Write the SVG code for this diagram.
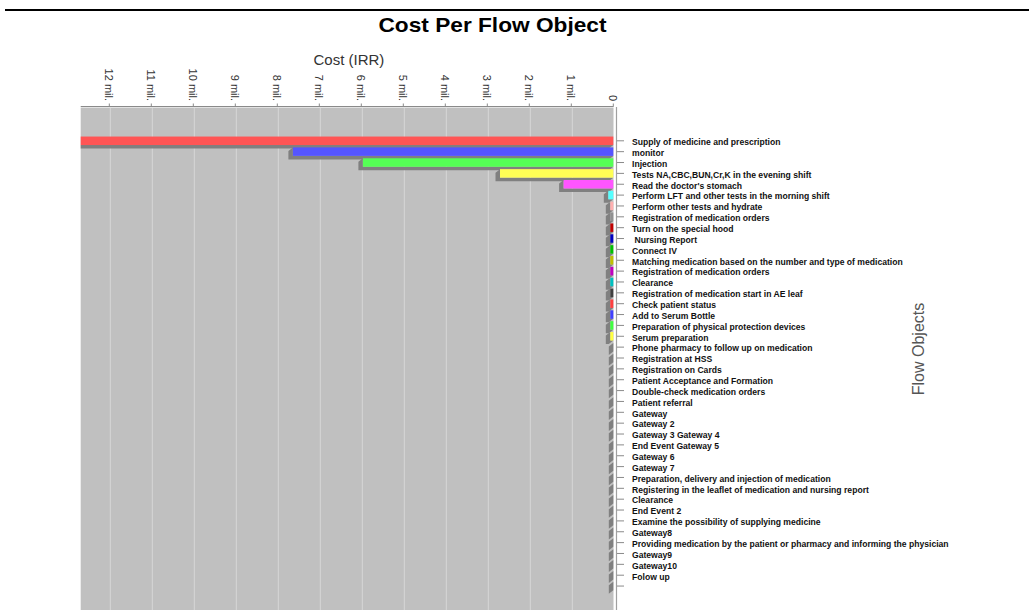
<svg xmlns="http://www.w3.org/2000/svg" width="1029" height="610" viewBox="0 0 1029 610">
  <style>
    .title { font-family: "Liberation Sans", Arial, sans-serif; font-weight: bold; font-size: 21px; fill: #000; }
    .axis-title { font-family: "Liberation Sans", Arial, sans-serif; font-size: 15px; fill: #333; }
    .flow-title { font-family: "Liberation Sans", Arial, sans-serif; font-size: 16px; fill: #555; }
    .tick-lbl { font-family: "Liberation Sans", Arial, sans-serif; font-size: 11px; fill: #333; }
    .lbl { font-family: "Liberation Sans", Arial, sans-serif; font-weight: bold; font-size: 8.6px; fill: #111; }
    .tk { stroke: #8a8a8a; stroke-width: 1; }
    .grid { stroke: #d6d6d6; stroke-width: 1; }
    .sh { fill: #808080; }
  </style>

  <!-- page rule and headings -->
  <line x1="5" y1="10" x2="1029" y2="10" stroke="#000" stroke-width="2"/>
  <text class="title" x="492.5" y="31.5" text-anchor="middle" textLength="228" lengthAdjust="spacingAndGlyphs">Cost Per Flow Object</text>
  <text class="axis-title" x="313.5" y="65">Cost (IRR)</text>
  <text class="flow-title" transform="translate(924,349) rotate(-90)" text-anchor="middle">Flow Objects</text>

  <!-- plot background and gridlines -->
  <g id="plot">
    <rect x="80.7" y="108" width="532.8" height="502" fill="#c0c0c0"/>
    <g class="grid">
      <line x1="110.3" y1="108" x2="110.3" y2="610"/>
      <line x1="152.3" y1="108" x2="152.3" y2="610"/>
      <line x1="194.3" y1="108" x2="194.3" y2="610"/>
      <line x1="236.3" y1="108" x2="236.3" y2="610"/>
      <line x1="278.3" y1="108" x2="278.3" y2="610"/>
      <line x1="320.3" y1="108" x2="320.3" y2="610"/>
      <line x1="362.3" y1="108" x2="362.3" y2="610"/>
      <line x1="404.3" y1="108" x2="404.3" y2="610"/>
      <line x1="446.3" y1="108" x2="446.3" y2="610"/>
      <line x1="488.3" y1="108" x2="488.3" y2="610"/>
      <line x1="530.3" y1="108" x2="530.3" y2="610"/>
      <line x1="572.3" y1="108" x2="572.3" y2="610"/>
    </g>
  </g>

  <!-- cost axis (top) -->
  <g id="cost-axis">
    <line x1="80.7" y1="106.7" x2="613.5" y2="106.7" stroke="#8a8a8a" stroke-width="1.2"/>
    <g class="tk">
      <line x1="109.3" y1="103.5" x2="109.3" y2="106.5"/>
      <line x1="151.3" y1="103.5" x2="151.3" y2="106.5"/>
      <line x1="193.3" y1="103.5" x2="193.3" y2="106.5"/>
      <line x1="235.3" y1="103.5" x2="235.3" y2="106.5"/>
      <line x1="277.3" y1="103.5" x2="277.3" y2="106.5"/>
      <line x1="319.3" y1="103.5" x2="319.3" y2="106.5"/>
      <line x1="361.3" y1="103.5" x2="361.3" y2="106.5"/>
      <line x1="403.3" y1="103.5" x2="403.3" y2="106.5"/>
      <line x1="445.3" y1="103.5" x2="445.3" y2="106.5"/>
      <line x1="487.3" y1="103.5" x2="487.3" y2="106.5"/>
      <line x1="529.3" y1="103.5" x2="529.3" y2="106.5"/>
      <line x1="571.3" y1="103.5" x2="571.3" y2="106.5"/>
      <line x1="613.3" y1="103.5" x2="613.3" y2="106.5"/>
    </g>
    <g text-anchor="end">
      <text class="tick-lbl" transform="translate(105.3,101) rotate(90)">12 mil.</text>
      <text class="tick-lbl" transform="translate(147.3,101) rotate(90)">11 mil.</text>
      <text class="tick-lbl" transform="translate(189.3,101) rotate(90)">10 mil.</text>
      <text class="tick-lbl" transform="translate(231.3,101) rotate(90)">9 mil.</text>
      <text class="tick-lbl" transform="translate(273.3,101) rotate(90)">8 mil.</text>
      <text class="tick-lbl" transform="translate(315.3,101) rotate(90)">7 mil.</text>
      <text class="tick-lbl" transform="translate(357.3,101) rotate(90)">6 mil.</text>
      <text class="tick-lbl" transform="translate(399.3,101) rotate(90)">5 mil.</text>
      <text class="tick-lbl" transform="translate(441.3,101) rotate(90)">4 mil.</text>
      <text class="tick-lbl" transform="translate(483.3,101) rotate(90)">3 mil.</text>
      <text class="tick-lbl" transform="translate(525.3,101) rotate(90)">2 mil.</text>
      <text class="tick-lbl" transform="translate(567.3,101) rotate(90)">1 mil.</text>
      <text class="tick-lbl" transform="translate(609.3,101) rotate(90)">0</text>
    </g>
  </g>

  <!-- flow object axis (right) -->
  <line id="flow-axis" x1="616.5" y1="107" x2="616.5" y2="610" stroke="#a0a0a0" stroke-width="1.2"/>

  <!-- bars, one group per flow object -->
  <g id="bars">
    <g id="row-01" transform="translate(0,140.8)"><path class="sh" d="M80.7,4.25 V7.75 H608.8 L613.3,4.25 Z"/><rect x="80.7" y="-4.25" width="532.6" height="8.5" fill="#ff5555"/><line class="tk" x1="617" x2="624" y1="0" y2="0"/><text class="lbl" x="632" y="4.3">Supply of medicine and prescription</text></g>
    <g id="row-02" transform="translate(0,151.66)"><path class="sh" d="M292.9,-4.25 l-4.5,3.5 V7.75 H608.8 L613.3,4.25 H292.9 Z"/><rect x="292.9" y="-4.25" width="320.4" height="8.5" fill="#5555ff"/><line class="tk" x1="617" x2="624" y1="0" y2="0"/><text class="lbl" x="632" y="4.3">monitor</text></g>
    <g id="row-03" transform="translate(0,162.52)"><path class="sh" d="M362.9,-4.25 l-4.5,3.5 V7.75 H608.8 L613.3,4.25 H362.9 Z"/><rect x="362.9" y="-4.25" width="250.4" height="8.5" fill="#55ff55"/><line class="tk" x1="617" x2="624" y1="0" y2="0"/><text class="lbl" x="632" y="4.3">Injection</text></g>
    <g id="row-04" transform="translate(0,173.38)"><path class="sh" d="M500,-4.25 l-4.5,3.5 V7.75 H608.8 L613.3,4.25 H500 Z"/><rect x="500" y="-4.25" width="113.3" height="8.5" fill="#ffff55"/><line class="tk" x1="617" x2="624" y1="0" y2="0"/><text class="lbl" x="632" y="4.3">Tests NA,CBC,BUN,Cr,K in the evening shift</text></g>
    <g id="row-05" transform="translate(0,184.24)"><path class="sh" d="M563.6,-4.25 l-4.5,3.5 V7.75 H608.8 L613.3,4.25 H563.6 Z"/><rect x="563.6" y="-4.25" width="49.7" height="8.5" fill="#ff55ff"/><line class="tk" x1="617" x2="624" y1="0" y2="0"/><text class="lbl" x="632" y="4.3">Read the doctor's stomach</text></g>
    <g id="row-06" transform="translate(0,195.1)"><path class="sh" d="M608.3,-4.25 l-4.5,3.5 V7.75 H608.8 L613.3,4.25 H608.3 Z"/><rect x="608.3" y="-4.25" width="5" height="8.5" fill="#55ffff"/><line class="tk" x1="617" x2="624" y1="0" y2="0"/><text class="lbl" x="632" y="4.3">Perform LFT and other tests in the morning shift</text></g>
    <g id="row-07" transform="translate(0,205.96)"><path class="sh" d="M610.3,-4.25 l-4.5,3.5 V7.75 H608.8 L613.3,4.25 H610.3 Z"/><rect x="610.3" y="-4.25" width="3" height="8.5" fill="#ffafaf"/><line class="tk" x1="617" x2="624" y1="0" y2="0"/><text class="lbl" x="632" y="4.3">Perform other tests and hydrate</text></g>
    <g id="row-08" transform="translate(0,216.82)"><path class="sh" d="M610.3,-4.25 l-4.5,3.5 V7.75 H608.8 L613.3,4.25 H610.3 Z"/><rect x="610.3" y="-4.25" width="3" height="8.5" fill="#909090"/><line class="tk" x1="617" x2="624" y1="0" y2="0"/><text class="lbl" x="632" y="4.3">Registration of medication orders</text></g>
    <g id="row-09" transform="translate(0,227.68)"><path class="sh" d="M610.3,-4.25 l-4.5,3.5 V7.75 H608.8 L613.3,4.25 H610.3 Z"/><rect x="610.3" y="-4.25" width="3" height="8.5" fill="#c00000"/><line class="tk" x1="617" x2="624" y1="0" y2="0"/><text class="lbl" x="632" y="4.3">Turn on the special hood</text></g>
    <g id="row-10" transform="translate(0,238.54)"><path class="sh" d="M610.3,-4.25 l-4.5,3.5 V7.75 H608.8 L613.3,4.25 H610.3 Z"/><rect x="610.3" y="-4.25" width="3" height="8.5" fill="#0000c0"/><line class="tk" x1="617" x2="624" y1="0" y2="0"/><text class="lbl" x="634.5" y="4.3">Nursing Report</text></g>
    <g id="row-11" transform="translate(0,249.4)"><path class="sh" d="M610.3,-4.25 l-4.5,3.5 V7.75 H608.8 L613.3,4.25 H610.3 Z"/><rect x="610.3" y="-4.25" width="3" height="8.5" fill="#00c000"/><line class="tk" x1="617" x2="624" y1="0" y2="0"/><text class="lbl" x="632" y="4.3">Connect IV</text></g>
    <g id="row-12" transform="translate(0,260.26)"><path class="sh" d="M610.3,-4.25 l-4.5,3.5 V7.75 H608.8 L613.3,4.25 H610.3 Z"/><rect x="610.3" y="-4.25" width="3" height="8.5" fill="#c0c000"/><line class="tk" x1="617" x2="624" y1="0" y2="0"/><text class="lbl" x="632" y="4.3">Matching medication based on the number and type of medication</text></g>
    <g id="row-13" transform="translate(0,271.12)"><path class="sh" d="M610.3,-4.25 l-4.5,3.5 V7.75 H608.8 L613.3,4.25 H610.3 Z"/><rect x="610.3" y="-4.25" width="3" height="8.5" fill="#c000c0"/><line class="tk" x1="617" x2="624" y1="0" y2="0"/><text class="lbl" x="632" y="4.3">Registration of medication orders</text></g>
    <g id="row-14" transform="translate(0,281.98)"><path class="sh" d="M610.3,-4.25 l-4.5,3.5 V7.75 H608.8 L613.3,4.25 H610.3 Z"/><rect x="610.3" y="-4.25" width="3" height="8.5" fill="#00c0c0"/><line class="tk" x1="617" x2="624" y1="0" y2="0"/><text class="lbl" x="632" y="4.3">Clearance</text></g>
    <g id="row-15" transform="translate(0,292.84)"><path class="sh" d="M610.3,-4.25 l-4.5,3.5 V7.75 H608.8 L613.3,4.25 H610.3 Z"/><rect x="610.3" y="-4.25" width="3" height="8.5" fill="#404040"/><line class="tk" x1="617" x2="624" y1="0" y2="0"/><text class="lbl" x="632" y="4.3">Registration of medication start in AE leaf</text></g>
    <g id="row-16" transform="translate(0,303.7)"><path class="sh" d="M610.3,-4.25 l-4.5,3.5 V7.75 H608.8 L613.3,4.25 H610.3 Z"/><rect x="610.3" y="-4.25" width="3" height="8.5" fill="#ff4040"/><line class="tk" x1="617" x2="624" y1="0" y2="0"/><text class="lbl" x="632" y="4.3">Check patient status</text></g>
    <g id="row-17" transform="translate(0,314.56)"><path class="sh" d="M610.3,-4.25 l-4.5,3.5 V7.75 H608.8 L613.3,4.25 H610.3 Z"/><rect x="610.3" y="-4.25" width="3" height="8.5" fill="#4040ff"/><line class="tk" x1="617" x2="624" y1="0" y2="0"/><text class="lbl" x="632" y="4.3">Add to Serum Bottle</text></g>
    <g id="row-18" transform="translate(0,325.42)"><path class="sh" d="M610.3,-4.25 l-4.5,3.5 V7.75 H608.8 L613.3,4.25 H610.3 Z"/><rect x="610.3" y="-4.25" width="3" height="8.5" fill="#40ff40"/><line class="tk" x1="617" x2="624" y1="0" y2="0"/><text class="lbl" x="632" y="4.3">Preparation of physical protection devices</text></g>
    <g id="row-19" transform="translate(0,336.28)"><path class="sh" d="M610.3,-4.25 l-4.5,3.5 V7.75 H608.8 L613.3,4.25 H610.3 Z"/><rect x="610.3" y="-4.25" width="3" height="8.5" fill="#ffff40"/><line class="tk" x1="617" x2="624" y1="0" y2="0"/><text class="lbl" x="632" y="4.3">Serum preparation</text></g>
    <g id="row-20" transform="translate(0,347.14)"><path class="sh" d="M613.3,-4.25 l-4.5,3.5 V7.75 L613.3,4.25 Z"/><line class="tk" x1="617" x2="624" y1="0" y2="0"/><text class="lbl" x="632" y="4.3">Phone pharmacy to follow up on medication</text></g>
    <g id="row-21" transform="translate(0,358)"><path class="sh" d="M613.3,-4.25 l-4.5,3.5 V7.75 L613.3,4.25 Z"/><line class="tk" x1="617" x2="624" y1="0" y2="0"/><text class="lbl" x="632" y="4.3">Registration at HSS</text></g>
    <g id="row-22" transform="translate(0,368.86)"><path class="sh" d="M613.3,-4.25 l-4.5,3.5 V7.75 L613.3,4.25 Z"/><line class="tk" x1="617" x2="624" y1="0" y2="0"/><text class="lbl" x="632" y="4.3">Registration on Cards</text></g>
    <g id="row-23" transform="translate(0,379.72)"><path class="sh" d="M613.3,-4.25 l-4.5,3.5 V7.75 L613.3,4.25 Z"/><line class="tk" x1="617" x2="624" y1="0" y2="0"/><text class="lbl" x="632" y="4.3">Patient Acceptance and Formation</text></g>
    <g id="row-24" transform="translate(0,390.58)"><path class="sh" d="M613.3,-4.25 l-4.5,3.5 V7.75 L613.3,4.25 Z"/><line class="tk" x1="617" x2="624" y1="0" y2="0"/><text class="lbl" x="632" y="4.3">Double-check medication orders</text></g>
    <g id="row-25" transform="translate(0,401.44)"><path class="sh" d="M613.3,-4.25 l-4.5,3.5 V7.75 L613.3,4.25 Z"/><line class="tk" x1="617" x2="624" y1="0" y2="0"/><text class="lbl" x="632" y="4.3">Patient referral</text></g>
    <g id="row-26" transform="translate(0,412.3)"><path class="sh" d="M613.3,-4.25 l-4.5,3.5 V7.75 L613.3,4.25 Z"/><line class="tk" x1="617" x2="624" y1="0" y2="0"/><text class="lbl" x="632" y="4.3">Gateway</text></g>
    <g id="row-27" transform="translate(0,423.16)"><path class="sh" d="M613.3,-4.25 l-4.5,3.5 V7.75 L613.3,4.25 Z"/><line class="tk" x1="617" x2="624" y1="0" y2="0"/><text class="lbl" x="632" y="4.3">Gateway 2</text></g>
    <g id="row-28" transform="translate(0,434.02)"><path class="sh" d="M613.3,-4.25 l-4.5,3.5 V7.75 L613.3,4.25 Z"/><line class="tk" x1="617" x2="624" y1="0" y2="0"/><text class="lbl" x="632" y="4.3">Gateway 3 Gateway 4</text></g>
    <g id="row-29" transform="translate(0,444.88)"><path class="sh" d="M613.3,-4.25 l-4.5,3.5 V7.75 L613.3,4.25 Z"/><line class="tk" x1="617" x2="624" y1="0" y2="0"/><text class="lbl" x="632" y="4.3">End Event Gateway 5</text></g>
    <g id="row-30" transform="translate(0,455.74)"><path class="sh" d="M613.3,-4.25 l-4.5,3.5 V7.75 L613.3,4.25 Z"/><line class="tk" x1="617" x2="624" y1="0" y2="0"/><text class="lbl" x="632" y="4.3">Gateway 6</text></g>
    <g id="row-31" transform="translate(0,466.6)"><path class="sh" d="M613.3,-4.25 l-4.5,3.5 V7.75 L613.3,4.25 Z"/><line class="tk" x1="617" x2="624" y1="0" y2="0"/><text class="lbl" x="632" y="4.3">Gateway 7</text></g>
    <g id="row-32" transform="translate(0,477.46)"><path class="sh" d="M613.3,-4.25 l-4.5,3.5 V7.75 L613.3,4.25 Z"/><line class="tk" x1="617" x2="624" y1="0" y2="0"/><text class="lbl" x="632" y="4.3">Preparation, delivery and injection of medication</text></g>
    <g id="row-33" transform="translate(0,488.32)"><path class="sh" d="M613.3,-4.25 l-4.5,3.5 V7.75 L613.3,4.25 Z"/><line class="tk" x1="617" x2="624" y1="0" y2="0"/><text class="lbl" x="632" y="4.3">Registering in the leaflet of medication and nursing report</text></g>
    <g id="row-34" transform="translate(0,499.18)"><path class="sh" d="M613.3,-4.25 l-4.5,3.5 V7.75 L613.3,4.25 Z"/><line class="tk" x1="617" x2="624" y1="0" y2="0"/><text class="lbl" x="632" y="4.3">Clearance</text></g>
    <g id="row-35" transform="translate(0,510.04)"><path class="sh" d="M613.3,-4.25 l-4.5,3.5 V7.75 L613.3,4.25 Z"/><line class="tk" x1="617" x2="624" y1="0" y2="0"/><text class="lbl" x="632" y="4.3">End Event 2</text></g>
    <g id="row-36" transform="translate(0,520.9)"><path class="sh" d="M613.3,-4.25 l-4.5,3.5 V7.75 L613.3,4.25 Z"/><line class="tk" x1="617" x2="624" y1="0" y2="0"/><text class="lbl" x="632" y="4.3">Examine the possibility of supplying medicine</text></g>
    <g id="row-37" transform="translate(0,531.76)"><path class="sh" d="M613.3,-4.25 l-4.5,3.5 V7.75 L613.3,4.25 Z"/><line class="tk" x1="617" x2="624" y1="0" y2="0"/><text class="lbl" x="632" y="4.3">Gateway8</text></g>
    <g id="row-38" transform="translate(0,542.62)"><path class="sh" d="M613.3,-4.25 l-4.5,3.5 V7.75 L613.3,4.25 Z"/><line class="tk" x1="617" x2="624" y1="0" y2="0"/><text class="lbl" x="632" y="4.3">Providing medication by the patient or pharmacy and informing the physician</text></g>
    <g id="row-39" transform="translate(0,553.48)"><path class="sh" d="M613.3,-4.25 l-4.5,3.5 V7.75 L613.3,4.25 Z"/><line class="tk" x1="617" x2="624" y1="0" y2="0"/><text class="lbl" x="632" y="4.3">Gateway9</text></g>
    <g id="row-40" transform="translate(0,564.34)"><path class="sh" d="M613.3,-4.25 l-4.5,3.5 V7.75 L613.3,4.25 Z"/><line class="tk" x1="617" x2="624" y1="0" y2="0"/><text class="lbl" x="632" y="4.3">Gateway10</text></g>
    <g id="row-41" transform="translate(0,575.2)"><path class="sh" d="M613.3,-4.25 l-4.5,3.5 V7.75 L613.3,4.25 Z"/><line class="tk" x1="617" x2="624" y1="0" y2="0"/><text class="lbl" x="632" y="4.3">Folow up</text></g>
    <g id="row-42" transform="translate(0,586.06)"><path class="sh" d="M613.3,-4.25 l-4.5,3.5 V7.75 L613.3,4.25 Z"/><line class="tk" x1="617" x2="624" y1="0" y2="0"/></g>
  </g>
</svg>
